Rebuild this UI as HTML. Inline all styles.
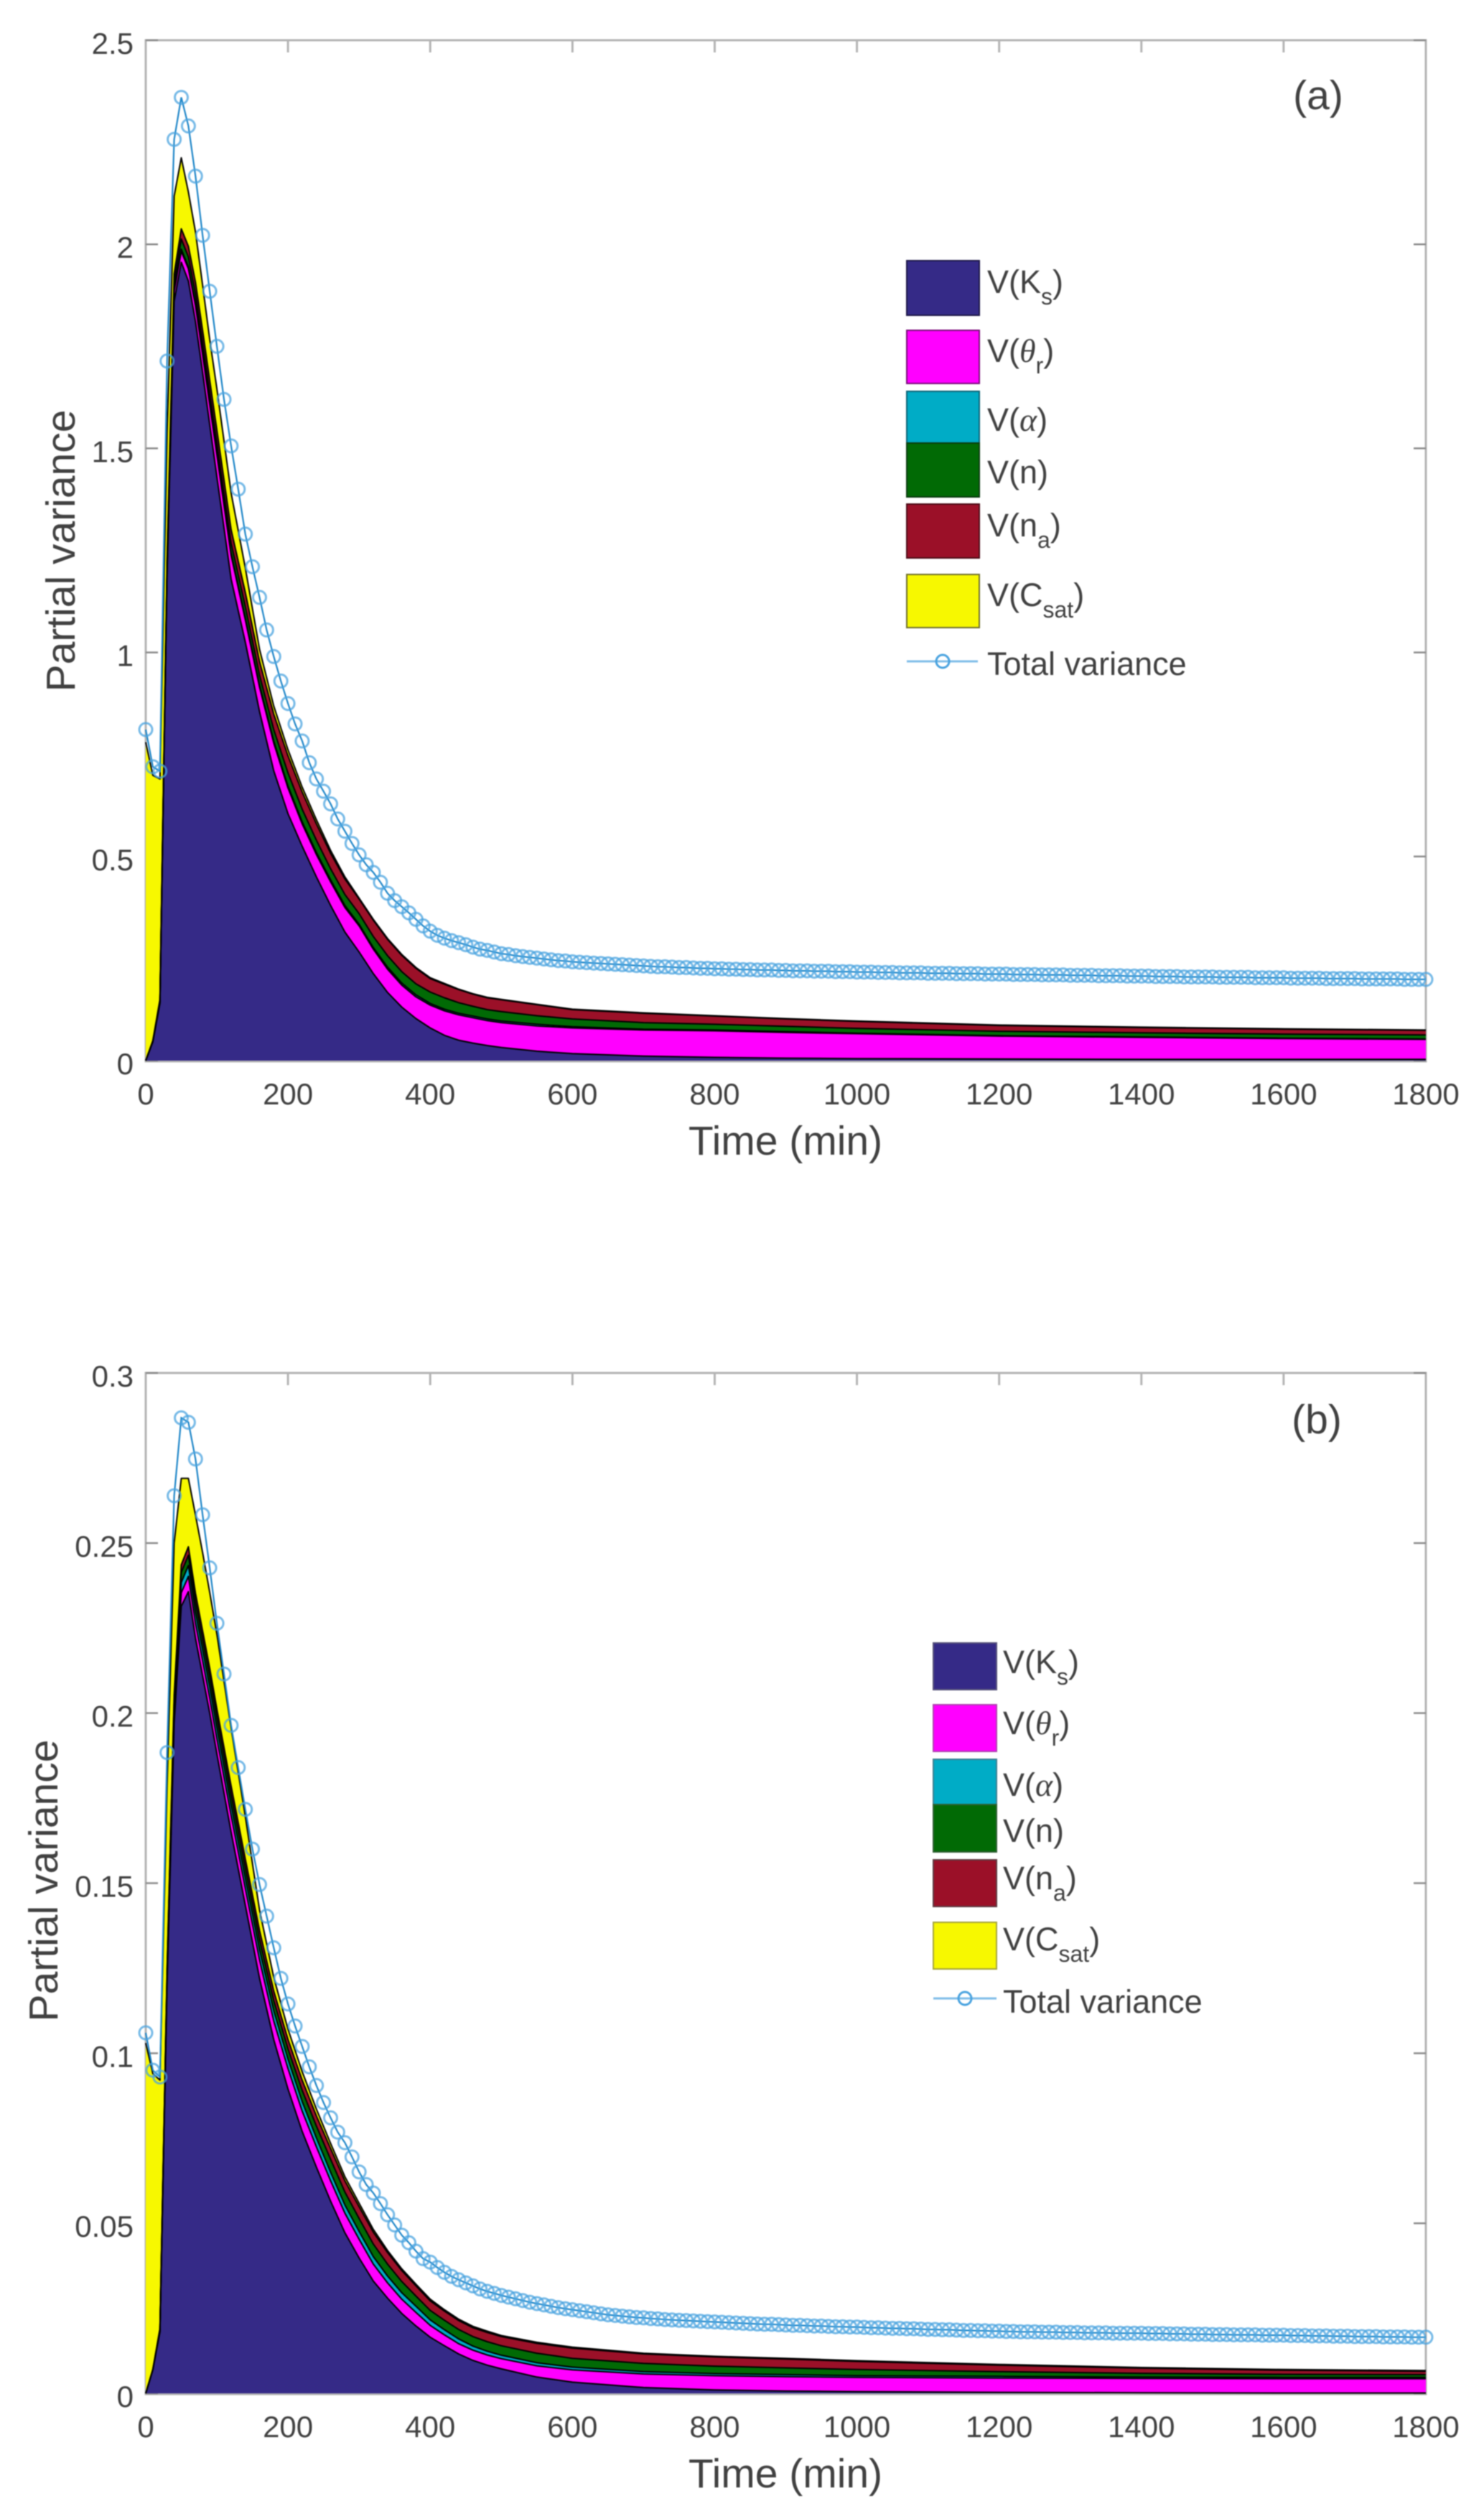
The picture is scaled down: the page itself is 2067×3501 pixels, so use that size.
<!DOCTYPE html>
<html lang="en">
<head>
<meta charset="utf-8">
<title>Partial variance over time</title>
<style>
html,body{margin:0;padding:0;background:#fff;}
#figure{display:block;width:2067px;height:3501px;filter:blur(.8px);}
text{font-family:"Liberation Sans",sans-serif;fill:#404040;}
.gr{font-family:"Liberation Serif",serif;font-style:italic;font-size:46px;}
.lg{font-size:45px;}
.sb{font-size:32px;}
.sw{stroke-width:2;}
</style>
</head>
<body>
<svg id="figure" xmlns="http://www.w3.org/2000/svg" width="2067" height="3501" viewBox="0 0 2067 3501">
<rect x="0" y="0" width="2067" height="3501" fill="#fff"/>
<g id="panelA"></g>
<g id="panelB"></g>

<text x="1836" y="152" font-size="57" text-anchor="middle">(a)</text>
<text x="1834" y="1996" font-size="57" text-anchor="middle">(b)</text>

<text font-size="57" text-anchor="middle" transform="translate(104 767) rotate(-90)">Partial variance</text>
<text font-size="57" text-anchor="middle" transform="translate(80 2619) rotate(-90)">Partial variance</text>
<text x="1094" y="1608" font-size="57" text-anchor="middle">Time (min)</text>
<text x="1094" y="3464" font-size="57" text-anchor="middle">Time (min)</text>

<g>
  <rect class="sw" x="1263" y="363" width="101" height="76" fill="#352a87" stroke="#1c1648"/>
  <text class="lg" x="1375" y="408">V(K<tspan class="sb" dy="16">s</tspan><tspan dy="-16">)</tspan></text>
  <rect class="sw" x="1263" y="460" width="101" height="74" fill="#ff00ff" stroke="#7a0a7a"/>
  <text class="lg" x="1375" y="504">V(<tspan class="gr">θ</tspan><tspan class="sb" dy="16">r</tspan><tspan dy="-16">)</tspan></text>
  <rect class="sw" x="1263" y="545" width="101" height="72" fill="#00acc6" stroke="#0a6478"/>
  <text class="lg" x="1375" y="600">V(<tspan class="gr">α</tspan>)</text>
  <rect class="sw" x="1263" y="617" width="101" height="75" fill="#016a05" stroke="#0b3d10"/>
  <text class="lg" x="1375" y="673">V(n)</text>
  <rect class="sw" x="1263" y="702" width="101" height="75" fill="#9b1028" stroke="#4e0c18"/>
  <text class="lg" x="1375" y="747">V(n<tspan class="sb" dy="16">a</tspan><tspan dy="-16">)</tspan></text>
  <rect class="sw" x="1263" y="800" width="101" height="74" fill="#f7f800" stroke="#6e6e2a"/>
  <text class="lg" x="1375" y="844">V(C<tspan class="sb" dy="16">sat</tspan><tspan dy="-16">)</tspan></text>
  <line x1="1263" y1="921" x2="1362" y2="921" stroke="#7fbde8" stroke-width="3"/>
  <circle cx="1313" cy="921" r="9" fill="none" stroke="#4aa3df" stroke-width="3"/>
  <text class="lg" x="1375" y="940">Total variance</text>
</g>

<g>
  <rect class="sw" x="1300" y="2288" width="88" height="65" fill="#352a87" stroke="#55507a"/>
  <text class="lg" x="1397" y="2330">V(K<tspan class="sb" dy="16">s</tspan><tspan dy="-16">)</tspan></text>
  <rect class="sw" x="1300" y="2374" width="88" height="65" fill="#ff00ff" stroke="#b040b0"/>
  <text class="lg" x="1397" y="2415">V(<tspan class="gr">θ</tspan><tspan class="sb" dy="16">r</tspan><tspan dy="-16">)</tspan></text>
  <rect class="sw" x="1300" y="2450" width="88" height="63" fill="#00acc6" stroke="#3a7f90"/>
  <text class="lg" x="1397" y="2501">V(<tspan class="gr">α</tspan>)</text>
  <rect class="sw" x="1300" y="2513" width="88" height="66" fill="#016a05" stroke="#2f5f33"/>
  <text class="lg" x="1397" y="2565">V(n)</text>
  <rect class="sw" x="1300" y="2590" width="88" height="65" fill="#9b1028" stroke="#5d3a40"/>
  <text class="lg" x="1397" y="2631">V(n<tspan class="sb" dy="16">a</tspan><tspan dy="-16">)</tspan></text>
  <rect class="sw" x="1300" y="2677" width="88" height="65" fill="#f7f800" stroke="#a5a53c"/>
  <text class="lg" x="1397" y="2716">V(C<tspan class="sb" dy="16">sat</tspan><tspan dy="-16">)</tspan></text>
  <line x1="1300" y1="2783" x2="1388" y2="2783" stroke="#7fbde8" stroke-width="3"/>
  <circle cx="1344" cy="2783" r="9" fill="none" stroke="#4aa3df" stroke-width="3"/>
  <text class="lg" x="1397" y="2803">Total variance</text>
</g>
</svg>

<script>
// ---- shared categories and tick labels ----
const layerTimes = [0,10,20,30,40,50,60,70,80,90,100,120,140,160,180,200,220,240,260,280,300,320,340,360,380,400,420,440,460,480,500,550,600,700,800,900,1000,1200,1400,1600,1800];
const totalStepMinutes = 10;
const xTickValues = [0,200,400,600,800,1000,1200,1400,1600,1800];
const yTickValuesA = [0,0.5,1,1.5,2,2.5];
const yTickLabelsA = ['0','0.5','1','1.5','2','2.5'];
const yTickValuesB = [0,0.05,0.1,0.15,0.2,0.25,0.3];
const yTickLabelsB = ['0','0.05','0.1','0.15','0.2','0.25','0.3'];
const yMaxA = 2.5;
const yMaxB = 0.3;

// ---- panel (a) series ----
const ksA = [0,.046,.14,1.19,1.86,1.956,1.91,1.81,1.686,1.558,1.43,1.18,1.025,.855,.71,.605,.525,.45,.38,.315,.266,.213,.167,.131,.103,.08,.062,.05,.043,.037,.032,.023,.017,.011,.008,.006,.005,.004,.003,.003,.003];
const thetaA = [0,.001,.003,.015,.025,.027,.03,.04,.044,.049,.054,.058,.055,.06,.068,.063,.055,.055,.058,.06,.064,.06,.057,.054,.053,.056,.06,.062,.062,.061,.061,.062,.063,.064,.065,.063,.061,.056,.054,.051,.049];
const alphaA = [0,0,.001,.002,.004,.005,.005,.005,.005,.005,.005,.005,.005,.005,.005,.005,.005,.005,.005,.005,.004,.004,.005,.005,.005,.004,.004,.004,.004,.004,.004,.004,.003,.002,.002,.002,.001,.001,.001,.001,.001];
const nA = [0,.001,.002,.008,.017,.025,.024,.024,.024,.024,.024,.025,.027,.024,.028,.032,.031,.03,.027,.027,.026,.027,.028,.028,.027,.028,.028,.026,.024,.023,.023,.021,.019,.016,.014,.013,.012,.011,.01,.01,.01];
const naA = [0,.001,.004,.012,.022,.025,.026,.028,.03,.031,.032,.033,.035,.034,.038,.042,.042,.04,.038,.038,.036,.04,.04,.04,.038,.033,.033,.032,.03,.029,.029,.027,.023,.023,.02,.018,.017,.014,.013,.012,.011];
const csatA = [.78,.65,.54,.313,.19,.174,.133,.123,.111,.1,.101,.09,.06,.03,.02,.015,.012,.01,.007,.005,.002,.002,.002,.002,.002,.002,.002,.001,.001,.001,.001,.001,.001,.001,.001,.001,.001,.001,.001,.001,.001];
const totalA = [
.811,.72,.709,1.714,2.257,2.36,2.29,2.167,2.022,1.885,
1.75,1.62,1.506,1.40,1.29,1.21,1.135,1.055,.99,.93,
.875,.825,.783,.73,.69,.66,.629,.592,.562,.532,
.504,.48,.461,.437,.41,.392,.377,.362,.346,.33,
.317,.307,.30,.294,.289,.284,.278,.273,.27,.266,
.262,.26,.257,.255,.253,.251,.249,.247,.245,.244,
.242,.241,.24,.239,.238,.237,.236,.235,.234,.233,
.232,.231,.23,.23,.229,.228,.228,.227,.226,.226,
.225,.225,.224,.224,.223,.223,.222,.222,.222,.221,
.221,.22,.22,.22,.219,.219,.219,.218,.218,.218,
.217,.217,.217,.216,.216,.216,.215,.215,.215,.215,
.214,.214,.214,.214,.213,.213,.213,.213,.212,.212,
.212,.212,.211,.211,.211,.211,.21,.21,.21,.21,
.209,.209,.209,.209,.208,.208,.208,.208,.207,.207,
.207,.207,.206,.206,.206,.206,.205,.205,.205,.205,
.205,.204,.204,.204,.204,.204,.203,.203,.203,.203,
.203,.202,.202,.202,.202,.202,.201,.201,.201,.201,
.201,.2,.2,.2,.2,.2,.2,.199,.199,.199,
.199];

// ---- panel (b) series ----
const ksB = [0,.007,.018,.12,.197,.2314,.2357,.222,.211,.2,.188,.165,.1435,.122,.104,.0895,.077,.0665,.0565,.0472,.0398,.033,.028,.0235,.0198,.0165,.014,.0116,.0097,.0083,.0072,.0048,.0033,.0017,.001,.0007,.0005,.0003,.0002,.0001,.0001];
const thetaB = [0,0,.0004,.002,.003,.004,.0045,.0045,.0045,.0045,.0045,.005,.005,.0055,.0055,.006,.006,.006,.006,.0058,.0055,.005,.0045,.0042,.004,.0035,.0032,.003,.003,.003,.003,.0033,.0036,.004,.0042,.0042,.0042,.0042,.0042,.0042,.0042];
const alphaB = [0,0,.0002,.001,.002,.003,.0032,.0032,.0032,.0032,.0032,.003,.003,.003,.003,.0028,.0028,.0026,.0025,.0024,.0023,.0022,.002,.0019,.0018,.0016,.0015,.0014,.0012,.0011,.001,.0009,.0008,.0007,.0006,.0006,.0005,.0005,.0004,.0004,.0004];
const nB = [0,0,.0003,.001,.002,.003,.003,.003,.003,.003,.003,.003,.003,.003,.003,.003,.0033,.0035,.0038,.0038,.0038,.0037,.0035,.0033,.003,.0028,.0028,.0028,.0028,.0028,.0028,.0028,.0026,.0024,.0022,.002,.0018,.0014,.0011,.0009,.0008];
const naB = [0,0,.0002,.0008,.0015,.0022,.0025,.0025,.0025,.0025,.0025,.0026,.0026,.0026,.0028,.0028,.003,.003,.0032,.0033,.0035,.0035,.0034,.0032,.003,.0028,.0027,.0026,.0026,.0027,.0027,.0029,.003,.0028,.0027,.0026,.0024,.0019,.0015,.0012,.001];
const csatB = [.103,.087,.073,.054,.0445,.0254,.0201,.023,.023,.0223,.022,.017,.0125,.006,.004,.003,.0025,.002,.0015,.0012,.001,.0008,.0006,.0005,.0005,.0005,.0004,.0004,.0004,.0004,.0003,.0003,.0003,.0002,.0002,.0002,.0002,.0002,.0002,.0002,.0002];
const totalB = [
.106,.095,.093,.1884,.2639,.2868,.2855,.2747,.2583,.2427,
.2264,.2115,.1964,.184,.1717,.16,.1496,.1403,.131,.122,
.1145,.108,.102,.096,.0905,.0855,.081,.0768,.0737,.0695,
.0651,.0614,.0589,.0558,.0525,.0495,.0465,.0443,.0418,.0396,
.0386,.037,.0356,.0344,.0334,.0325,.0316,.0307,.03,.0294,
.0288,.0283,.0278,.0273,.0268,.0264,.026,.0256,.0252,.0249,
.0246,.0243,.024,.0237,.0234,.0231,.0229,.0227,.0225,.0223,
.0222,.022,.0219,.0217,.0216,.0215,.0214,.0213,.0212,.0211,
.021,.0209,.0208,.0207,.0206,.0205,.0204,.0203,.0203,.0202,
.0201,.02,.02,.0199,.0198,.0198,.0197,.0196,.0196,.0195,
.0195,.0194,.0193,.0193,.0192,.0191,.0191,.019,.019,.0189,
.0188,.0188,.0187,.0187,.0186,.0185,.0185,.0184,.0184,.0183,
.0183,.0182,.0182,.0181,.0181,.0181,.018,.018,.018,.0179,
.0179,.0179,.0178,.0178,.0178,.0178,.0177,.0177,.0177,.0177,
.0177,.0176,.0176,.0176,.0175,.0175,.0175,.0174,.0174,.0174,
.0173,.0173,.0173,.0172,.0172,.0172,.0172,.0171,.0171,.0171,
.0171,.017,.017,.017,.0169,.0169,.0169,.0168,.0168,.0168,
.0167,.0167,.0167,.0167,.0166,.0166,.0166,.0166,.0165,.0165,
.0165];

const layerColors = ['#352a87','#ff00ff','#00acc6','#016a05','#9b1028','#f7f800'];
const layerNames = ['ks','theta','alpha','n','na','csat'];

const SVG_NS = 'http://www.w3.org/2000/svg';
const PLOT_LEFT = 203, PLOT_RIGHT = 1986;
const xMaxMinutes = 1800;

function xScale(t) { return PLOT_LEFT + t / xMaxMinutes * (PLOT_RIGHT - PLOT_LEFT); }
function makeYScale(top, bottom, yMax) { return function (v) { return bottom - v / yMax * (bottom - top); }; }

function make(tag, attrs, parent) {
  const el = document.createElementNS(SVG_NS, tag);
  for (const k in attrs) el.setAttribute(k, attrs[k]);
  parent.appendChild(el);
  return el;
}

function drawPanel(group, prefix, top, bottom, yMax, yTicks, yLabels, layers, total) {
  const yScale = makeYScale(top, bottom, yMax);
  const axisColor = '#b4b4b4', tickLen = 17;

  const frame = make('rect', {x: PLOT_LEFT, y: top, width: PLOT_RIGHT - PLOT_LEFT, height: bottom - top + 1, fill: '#fff', stroke: axisColor, 'stroke-width': 3}, group);
  
  

  xTickValues.forEach(function (t) {
    const x = xScale(t);
    const tickTop = make('line', {x1: x, y1: top, x2: x, y2: top + tickLen, stroke: axisColor, 'stroke-width': 3}, group);
    
    
    const tickBottom = make('line', {x1: x, y1: bottom, x2: x, y2: bottom - tickLen, stroke: axisColor, 'stroke-width': 3}, group);
    
    
    const label = make('text', {x: x, y: bottom + 61, 'font-size': 42, 'text-anchor': 'middle'}, group);
    
    
    label.textContent = String(t);
  });

  yTicks.forEach(function (v, i) {
    const y = yScale(v);
    const tickLeft = make('line', {x1: PLOT_LEFT, y1: y, x2: PLOT_LEFT + tickLen, y2: y, stroke: '#8c8c8c', 'stroke-width': 2.5}, group);
    
    
    const tickRight = make('line', {x1: PLOT_RIGHT, y1: y, x2: PLOT_RIGHT - tickLen, y2: y, stroke: '#8c8c8c', 'stroke-width': 2.5}, group);
    
    
    const label = make('text', {x: 186, y: y + 19, 'font-size': 42, 'text-anchor': 'end'}, group);
    
    
    label.textContent = yLabels[i];
  });

  // stacked areas, cumulative from the component series
  let lower = layerTimes.map(function () { return 0; });
  const edges = [];
  layers.forEach(function (values, li) {
    const upper = values.map(function (v, i) { return lower[i] + v; });
    const topPts = layerTimes.map(function (t, i) { return xScale(t).toFixed(1) + ',' + yScale(upper[i]).toFixed(1); });
    const lowPts = layerTimes.map(function (t, i) { return xScale(t).toFixed(1) + ',' + yScale(lower[i]).toFixed(1); }).reverse();
    const area = make('polygon', {points: topPts.concat(lowPts).join(' '), fill: layerColors[li]}, group);
    
    
    edges.push({pts: topPts.join(' '), name: layerNames[li]});
    lower = upper;
  });
  edges.forEach(function (edge) {
    const line = make('polyline', {points: edge.pts, fill: 'none', stroke: '#000', 'stroke-width': 2, 'stroke-linejoin': 'round'}, group);
    
    
  });

  // total variance line with circle markers
  const pts = total.map(function (v, i) { return xScale(i * totalStepMinutes).toFixed(1) + ',' + yScale(v).toFixed(1); }).join(' ');
  const totalLine = make('polyline', {points: pts, fill: 'none', stroke: '#1f86c8', 'stroke-width': 2.2}, group);
  
  
  total.forEach(function (v, i) {
    const marker = make('circle', {cx: xScale(i * totalStepMinutes).toFixed(1), cy: yScale(v).toFixed(1), r: 9, fill: 'none', stroke: '#4aa3df', 'stroke-width': 3, 'stroke-opacity': 0.75}, group);
    
    
  });
}

drawPanel(document.getElementById('panelA'), 'panel-a', 56, 1477, yMaxA, yTickValuesA, yTickLabelsA, [ksA, thetaA, alphaA, nA, naA, csatA], totalA);
drawPanel(document.getElementById('panelB'), 'panel-b', 1912, 3333, yMaxB, yTickValuesB, yTickLabelsB, [ksB, thetaB, alphaB, nB, naB, csatB], totalB);
</script>
</body>
</html>
